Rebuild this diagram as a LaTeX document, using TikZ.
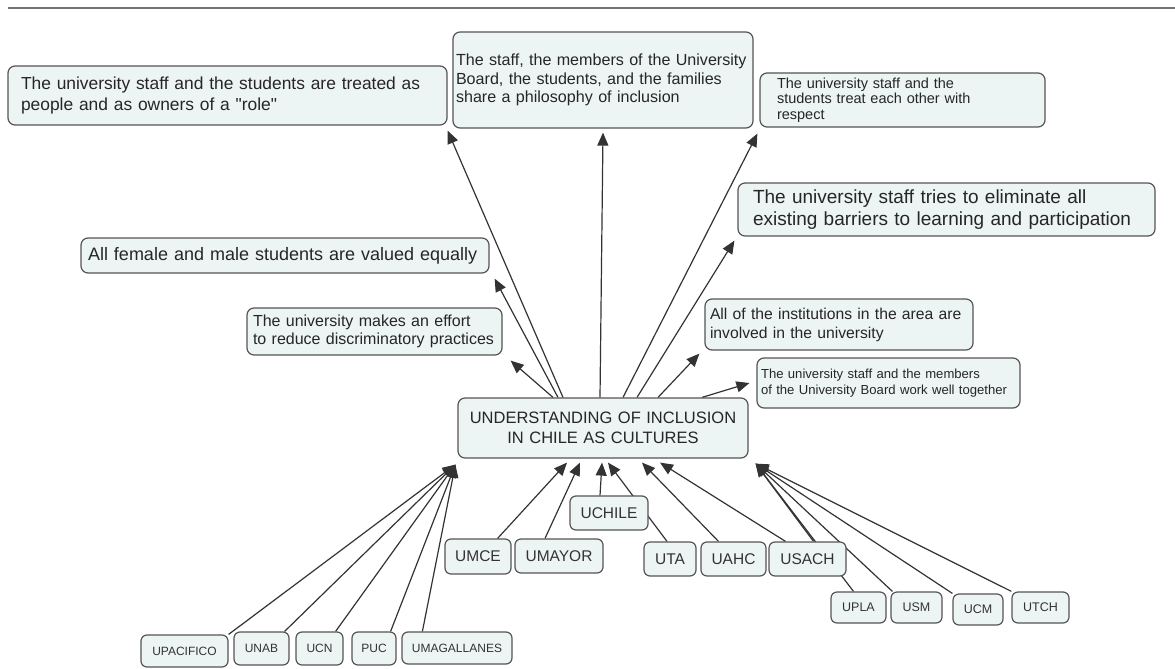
\documentclass[tikz,border=0pt]{standalone}
\usepackage{fontspec}
\setmainfont{Liberation Sans}
\usetikzlibrary{arrows.meta}
\pgfdeclarelayer{background}
\pgfsetlayers{background,main}
\definecolor{boxfill}{RGB}{237,244,244}
\definecolor{boxline}{RGB}{85,85,85}

\begin{document}
\begin{tikzpicture}[x=1pt, y=-1pt, >={Triangle[length=13pt,width=11pt]},
    idea/.style={rounded corners=7pt, draw=boxline, line width=1.2pt, fill=boxfill, text=black!85, align=left, inner sep=0pt},
    uni/.style={rounded corners=6pt, draw=boxline, line width=1.2pt, fill=boxfill, text=black!80, inner sep=0pt},
    link/.style={->, draw=black!80, line width=1.2pt}]

    \useasboundingbox (0,0) rectangle (1175,669);
    \draw[black!55, line width=1.5pt] (8,8) -- (1175,8);

    % statements
    \node[idea, minimum width=439pt, minimum height=59pt, text width=413pt, font={\fontsize{17.4}{20.5}\selectfont}] (n1) at (227.5,95.5) {The university staff and the students are treated as\\people and as owners of a \textquotedbl role\textquotedbl};
    \node[idea, minimum width=300pt, minimum height=96pt, text width=294pt, font={\fontsize{16.1}{18.5}\selectfont}] (n2) at (603,80) {The staff, the members of the University\\Board, the students, and the families\\share a philosophy of inclusion};
    \node[idea, minimum width=285pt, minimum height=54pt, text width=251pt, font={\fontsize{14.5}{15.5}\selectfont}] (n3) at (902.5,100) {The university staff and the\\students treat each other with\\respect};
    \node[idea, minimum width=417pt, minimum height=53pt, text width=387pt, font={\fontsize{19}{22}\selectfont}] (n4) at (946.5,209.5) {The university staff tries to eliminate all\\existing barriers to learning and participation};
    \node[idea, minimum width=408pt, minimum height=35pt, text width=394pt, font={\fontsize{18}{21}\selectfont}] (n5) at (285,255.5) {All female and male students are valued equally};
    \node[idea, minimum width=255pt, minimum height=47pt, text width=243pt, font={\fontsize{16}{18.5}\selectfont}] (n6) at (374.5,331.5) {The university makes an effort\\to reduce discriminatory practices};
    \node[idea, minimum width=268pt, minimum height=51pt, text width=258pt, font={\fontsize{15.7}{19}\selectfont}] (n7) at (839,324.5) {All of the institutions in the area are\\involved in the university};
    \node[idea, minimum width=263pt, minimum height=50pt, text width=255pt, font={\fontsize{13.1}{16}\selectfont}] (n8) at (888.5,383) {The university staff and the members\\of the University Board work well together};
    \node[idea, align=center, minimum width=290pt, minimum height=60pt, text width=280pt, font={\fontsize{16.5}{19.5}\selectfont}] (ctr) at (603,428) {UNDERSTANDING OF INCLUSION\\IN CHILE AS CULTURES};

    % universities
    \node[uni, minimum width=78pt, minimum height=34pt, font={\fontsize{15.5}{18}\selectfont}] (uchile) at (609,513) {UCHILE};
    \node[uni, minimum width=66pt, minimum height=35pt, font={\fontsize{15.5}{18}\selectfont}] (umce) at (478,556.5) {UMCE};
    \node[uni, minimum width=88pt, minimum height=34pt, font={\fontsize{15.5}{18}\selectfont}] (umayor) at (559,556) {UMAYOR};
    \node[uni, minimum width=52pt, minimum height=34pt, font={\fontsize{15.5}{18}\selectfont}] (uta) at (670,559) {UTA};
    \node[uni, minimum width=65pt, minimum height=34pt, font={\fontsize{15.5}{18}\selectfont}] (uahc) at (733.5,559) {UAHC};
    \node[uni, minimum width=77pt, minimum height=34pt, font={\fontsize{15.5}{18}\selectfont}] (usach) at (807.5,559) {USACH};
    \node[uni, minimum width=55pt, minimum height=31pt, font={\fontsize{12.5}{15}\selectfont}] (upla) at (858.5,607.5) {UPLA};
    \node[uni, minimum width=51pt, minimum height=31pt, font={\fontsize{12.5}{15}\selectfont}] (usm) at (916.5,607.5) {USM};
    \node[uni, minimum width=50pt, minimum height=31pt, font={\fontsize{12.5}{15}\selectfont}] (ucm) at (978,609.5) {UCM};
    \node[uni, minimum width=57pt, minimum height=31pt, font={\fontsize{12.5}{15}\selectfont}] (utch) at (1040.5,607.5) {UTCH};
    \node[uni, minimum width=87pt, minimum height=32pt, font={\fontsize{12}{14}\selectfont}] (upacifico) at (184.5,651) {UPACIFICO};
    \node[uni, minimum width=55pt, minimum height=33pt, font={\fontsize{12}{14}\selectfont}] (unab) at (261.5,648.5) {UNAB};
    \node[uni, minimum width=47pt, minimum height=33pt, font={\fontsize{12}{14}\selectfont}] (ucn) at (319.5,648.5) {UCN};
    \node[uni, minimum width=44pt, minimum height=33pt, font={\fontsize{12}{14}\selectfont}] (puc) at (374,648.5) {PUC};
    \node[uni, minimum width=110pt, minimum height=32pt, font={\fontsize{12}{14}\selectfont}] (umagallanes) at (457,648) {UMAGALLANES};

    \coordinate (cl) at ([shift={(-2,6)}]ctr.south west);
    \coordinate (cr) at ([shift={(7,5)}]ctr.south east);

    \begin{pgfonlayer}{background}
    % upward links
    \draw[link] ([xshift=-40pt]ctr.north) -- ([shift={(0,5)}]n1.south east);
    \draw[link] ([xshift=-3pt]ctr.north) -- ([shift={(0,4)}]n2.south);
    \draw[link] ([xshift=20pt]ctr.north) -- ([shift={(-2,6)}]n3.south west);
    \draw[link] ([xshift=34pt]ctr.north) -- ([shift={(-3,4)}]n4.south west);
    \draw[link] ([xshift=-45pt]ctr.north) -- ([shift={(5,5)}]n5.south east);
    \draw[link] ([xshift=-50pt]ctr.north) -- ([shift={(8,5)}]n6.south east);
    \draw[link] ([xshift=55pt]ctr.north) -- ([shift={(-5,3)}]n7.south west);
    \draw[link] ([xshift=99pt]ctr.north) -- ([shift={(-7,0)}]n8.west);

    % links from the universities
    \draw[link] (upacifico.north east) -- (cl);
    \draw[link] ([xshift=-5pt]unab.north east) -- (cl);
    \draw[link] ([xshift=-8pt]ucn.north east) -- (cl);
    \draw[link] ([xshift=-6pt]puc.north east) -- (cl);
    \draw[link] ([xshift=21pt]umagallanes.north west) -- (cl);

    \draw[link] ([xshift=-14pt]umce.north east) -- ([shift={(-36,4)}]ctr.south);
    \draw[link] ([xshift=-14pt]umayor.north) -- ([shift={(-23,4)}]ctr.south);
    \draw[link] ([xshift=-9pt]uchile.north) -- ([shift={(-1,4)}]ctr.south);
    \draw[link] ([xshift=-3pt]uta.north) -- ([shift={(5,4)}]ctr.south);
    \draw[link] ([xshift=-15pt]uahc.north) -- ([shift={(39,4)}]ctr.south);
    \draw[link] ([xshift=-22pt]usach.north) -- ([shift={(57,4)}]ctr.south);

    \draw[link] ([xshift=6pt]usach.north) -- (cr);
    \draw[link] ([xshift=-5pt]upla.north) -- (cr);
    \draw[link] ([xshift=2pt]usm.north west) -- (cr);
    \draw[link] (ucm.north west) -- (cr);
    \draw[link] (utch.north west) -- (cr);
    \end{pgfonlayer}

\end{tikzpicture}
\end{document}
